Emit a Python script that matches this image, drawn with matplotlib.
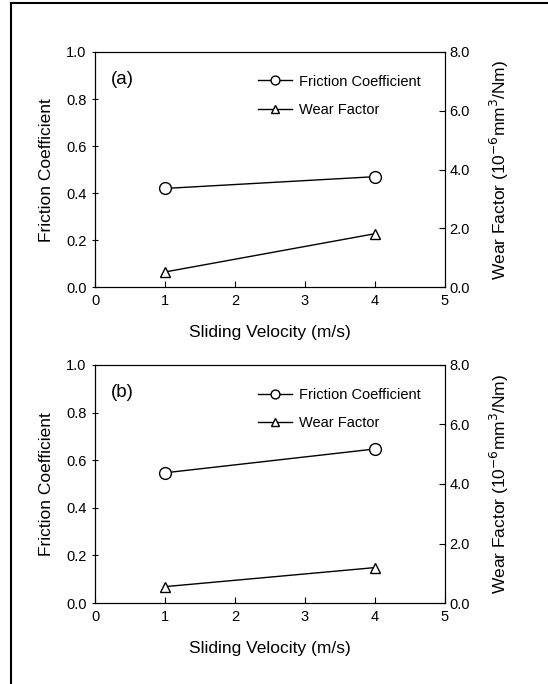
import matplotlib.pyplot as plt
from matplotlib.lines import Line2D

plt.rcParams['font.family'] = ['Liberation Sans', 'DejaVu Sans']

# Data
velocity = [1, 4]
friction_a = [0.42, 0.47]
wear_a = [0.52, 1.82]
friction_b = [0.547, 0.647]
wear_b = [0.55, 1.19]

panel_labels = ['(a)', '(b)']
x_ticks = [0, 1, 2, 3, 4, 5]
left_ticks = [0.0, 0.2, 0.4, 0.6, 0.8, 1.0]
right_ticks = [0.0, 2.0, 4.0, 6.0, 8.0]

fig = plt.figure(figsize=(5.48, 6.84), dpi=100)

# Frame lines around the figure (top and left only visible)
fig.add_artist(Line2D([0.02, 0.02], [0.0, 0.996], transform=fig.transFigure, color='black', lw=1.5))
fig.add_artist(Line2D([0.02, 1.0], [0.996, 0.996], transform=fig.transFigure, color='black', lw=1.5))

positions = [[0.1734, 0.580, 0.638, 0.344], [0.1734, 0.1184, 0.638, 0.348]]
datasets = [(friction_a, wear_a), (friction_b, wear_b)]

for pos, (fr, wr), lab in zip(positions, datasets, panel_labels):
    ax = fig.add_axes(pos)
    ax2 = ax.twinx()

    l1, = ax.plot(velocity, fr, color='black', lw=1, marker='o', markersize=8.5,
                  markerfacecolor='white', markeredgecolor='black', label='Friction Coefficient')
    l2, = ax2.plot(velocity, wr, color='black', lw=1, marker='^', markersize=7.5,
                   markerfacecolor='white', markeredgecolor='black', label='Wear Factor')

    ax.set_xlim(0, 5)
    ax.set_ylim(0, 1.0)
    ax2.set_ylim(0, 8.0)
    ax.set_xticks(x_ticks)
    ax.set_yticks(left_ticks)
    ax.set_yticklabels([f'{v:.1f}' for v in left_ticks])
    ax2.set_yticks(right_ticks)
    ax2.set_yticklabels([f'{v:.1f}' for v in right_ticks])

    ax.tick_params(axis='x', direction='in', length=4, labelsize=10.5, pad=5)
    ax.tick_params(axis='y', direction='inout', length=5, labelsize=10.5)
    ax2.tick_params(axis='y', direction='in', length=4, labelsize=10.5)

    ax.set_xlabel('Sliding Velocity (m/s)', fontsize=12.5, labelpad=12)
    ax.set_ylabel('Friction Coefficient', fontsize=12.5, labelpad=9)
    ax2.set_ylabel('Wear Factor (10$^{-6}$mm$^{3}$/Nm)', fontsize=12.5, labelpad=13)

    ax.text(0.045, 0.885, lab, transform=ax.transAxes, fontsize=13.5, va='center', ha='left')

    ax2.legend(handles=[l1, l2], loc='upper right', bbox_to_anchor=(0.97, 0.96),
               frameon=False, fontsize=10.5, handlelength=2.3, labelspacing=1.0,
               handletextpad=0.5, markerscale=0.75)

fig.savefig('out.png', dpi=100)
